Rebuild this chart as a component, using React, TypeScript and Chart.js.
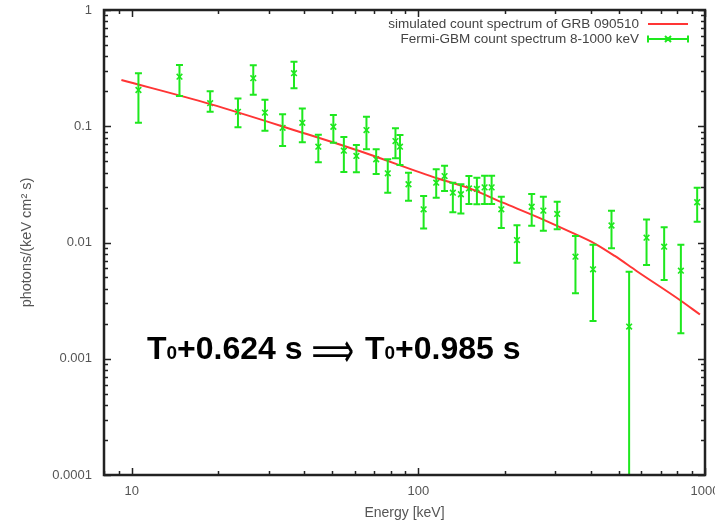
import React, { useEffect, useRef } from 'react';
import { Chart, registerables } from 'chart.js';

Chart.register(...registerables);

// ---- data ----
const energy = [10.55, 14.67, 18.77, 23.47, 26.54, 29.15, 33.59, 36.81, 39.36, 44.76, 50.51, 54.95, 60.77, 65.89, 71.24, 78.19, 83.18, 86.25, 92.36, 104.3, 115.4, 123.4, 131.9, 140.7, 150.1, 160.0, 170.2, 180.1, 194.7, 220.8, 248.5, 272.9, 305.0, 353.2, 406.8, 471.8, 543.6, 625.2, 720.3, 823.8, 939.1];
const counts = [0.205, 0.267, 0.158, 0.133, 0.259, 0.131, 0.097, 0.286, 0.107, 0.0667, 0.099, 0.0616, 0.0555, 0.0928, 0.052, 0.0394, 0.0746, 0.0667, 0.0317, 0.0193, 0.0327, 0.0373, 0.0268, 0.026, 0.0292, 0.0289, 0.0298, 0.0298, 0.0193, 0.0105, 0.0203, 0.0188, 0.0176, 0.00755, 0.00588, 0.014, 0.00189, 0.011, 0.0092, 0.00572, 0.0222];
const countsHigh = [0.286, 0.336, 0.2, 0.173, 0.334, 0.169, 0.127, 0.359, 0.142, 0.0846, 0.125, 0.0808, 0.069, 0.121, 0.0633, 0.052, 0.096, 0.0841, 0.0399, 0.0251, 0.0426, 0.0458, 0.0327, 0.0317, 0.0373, 0.0361, 0.0375, 0.0375, 0.0248, 0.0141, 0.0261, 0.0248, 0.0224, 0.0114, 0.00957, 0.0188, 0.00561, 0.0158, 0.0135, 0.00957, 0.0296];
const countsLow = [0.107, 0.182, 0.133, 0.098, 0.187, 0.0916, 0.0676, 0.212, 0.0728, 0.049, 0.0722, 0.0404, 0.0402, 0.0633, 0.0388, 0.0268, 0.053, 0.0464, 0.0229, 0.0132, 0.0243, 0.0277, 0.0182, 0.0178, 0.0214, 0.0213, 0.0214, 0.0214, 0.0133, 0.0067, 0.0139, 0.0126, 0.013, 0.00366, 0.00211, 0.00891, 0.00001, 0.0064, 0.00476, 0.00166, 0.0151];

const modelEnergy = [9.2, 18.8, 38.4, 62.3, 116.9, 150.9, 197.2, 258, 337.3, 412.4, 484.4, 576.8, 817, 960];
const modelFlux = [0.25, 0.155, 0.0898, 0.0612, 0.0355, 0.0292, 0.022, 0.0167, 0.0124, 0.0098, 0.00766, 0.00569, 0.0032, 0.0024];

const xTickValues = [10, 100, 1000];
const xTickLabels = ['10', '100', '1000'];
const yTickValues = [0.0001, 0.001, 0.01, 0.1, 1];
const yTickLabels = ['0.0001', '0.001', '0.01', '0.1', '1'];

const legendLabels = ['simulated count spectrum of GRB 090510', 'Fermi-GBM count spectrum 8-1000 keV'];
const xTitle = 'Energy [keV]';
const yTitle = 'photons/(keV cm\u00B2 s)';
const noteT = 'T';
const noteSub = '0';
const noteStart = '+0.624 s';
const noteEnd = '+0.985 s';
const noteArrow = '\u27F9';

const RED = '#ff3535';
const GREEN = '#1ee81e';
const FONT = '"Liberation Sans", Arial, Helvetica, sans-serif';

const decorations = {
  id: 'decorations',
  afterDatasetsDraw(chart: any) {
    const { ctx, chartArea: a, scales } = chart;
    const x = scales.x;
    const y = scales.y;
    ctx.save();
    ctx.beginPath();
    ctx.rect(a.left, a.top, a.right - a.left, a.bottom - a.top);
    ctx.clip();
    ctx.strokeStyle = GREEN;
    ctx.lineWidth = 2;
    energy.forEach((e, i) => {
      const px = x.getPixelForValue(e);
      const pl = y.getPixelForValue(countsLow[i]);
      const ph = y.getPixelForValue(countsHigh[i]);
      ctx.beginPath();
      ctx.moveTo(px, pl);
      ctx.lineTo(px, ph);
      ctx.moveTo(px - 3.5, pl);
      ctx.lineTo(px + 3.5, pl);
      ctx.moveTo(px - 3.5, ph);
      ctx.lineTo(px + 3.5, ph);
      ctx.stroke();
    });
    ctx.restore();
  },
  afterDraw(chart: any) {
    const { ctx, chartArea: a, scales } = chart;
    const x = scales.x;
    const y = scales.y;
    ctx.save();
    // ticks (inward, all four sides)
    ctx.strokeStyle = '#222';
    ctx.lineWidth = 1.5;
    ctx.beginPath();
    for (let d = -4; d <= 0; d++) {
      for (let k = 1; k <= 9; k++) {
        const v = k * Math.pow(10, d);
        if (v < y.min * 0.999 || v > y.max * 1.001) continue;
        const py = Math.round(y.getPixelForValue(v)) + 0.5;
        const len = k === 1 ? 7 : 4;
        ctx.moveTo(a.left, py);
        ctx.lineTo(a.left + len, py);
        ctx.moveTo(a.right, py);
        ctx.lineTo(a.right - len, py);
      }
    }
    for (let d = 0; d <= 3; d++) {
      for (let k = 1; k <= 9; k++) {
        const v = k * Math.pow(10, d);
        if (v < x.min * 0.999 || v > x.max * 1.001) continue;
        const px = Math.round(x.getPixelForValue(v)) + 0.5;
        const len = k === 1 ? 7 : 4;
        ctx.moveTo(px, a.bottom);
        ctx.lineTo(px, a.bottom - len);
        ctx.moveTo(px, a.top);
        ctx.lineTo(px, a.top + len);
      }
    }
    ctx.stroke();
    // frame
    ctx.lineWidth = 2.5;
    ctx.strokeRect(a.left, a.top, a.right - a.left, a.bottom - a.top);

    // legend
    ctx.font = '13.5px ' + FONT;
    ctx.fillStyle = '#444';
    ctx.textAlign = 'right';
    ctx.textBaseline = 'middle';
    const tx = a.right - 66;
    const r1 = a.top + 14;
    const r2 = a.top + 29;
    ctx.fillText(legendLabels[0], tx, r1);
    ctx.fillText(legendLabels[1], tx, r2);
    const s0 = a.right - 57;
    const s1 = a.right - 17;
    ctx.strokeStyle = RED;
    ctx.lineWidth = 2;
    ctx.beginPath();
    ctx.moveTo(s0, r1);
    ctx.lineTo(s1, r1);
    ctx.stroke();
    ctx.strokeStyle = GREEN;
    ctx.beginPath();
    ctx.moveTo(s0, r2);
    ctx.lineTo(s1, r2);
    ctx.moveTo(s0, r2 - 3.5);
    ctx.lineTo(s0, r2 + 3.5);
    ctx.moveTo(s1, r2 - 3.5);
    ctx.lineTo(s1, r2 + 3.5);
    const m = (s0 + s1) / 2;
    ctx.moveTo(m - 3, r2 - 3);
    ctx.lineTo(m + 3, r2 + 3);
    ctx.moveTo(m - 3, r2 + 3);
    ctx.lineTo(m + 3, r2 - 3);
    ctx.stroke();

    // annotation
    ctx.fillStyle = '#000';
    ctx.textAlign = 'left';
    ctx.textBaseline = 'alphabetic';
    const base = a.top + 349;
    const big = 'bold 32px ' + FONT;
    const small = 'bold 19px ' + FONT;
    const drawTimed = (x0: number, rest: string) => {
      ctx.font = big;
      ctx.fillText(noteT, x0, base);
      let xx = x0 + ctx.measureText(noteT).width;
      ctx.font = small;
      ctx.fillText(noteSub, xx, base);
      xx += ctx.measureText(noteSub).width;
      ctx.font = big;
      ctx.fillText(rest, xx, base);
    };
    drawTimed(a.left + 43, noteStart);
    drawTimed(a.left + 261, noteEnd);
    // arrow
    ctx.font = '40px "DejaVu Sans", sans-serif';
    const am = ctx.measureText(noteArrow);
    const bw = am.actualBoundingBoxLeft + am.actualBoundingBoxRight;
    const bh = am.actualBoundingBoxAscent + am.actualBoundingBoxDescent;
    ctx.translate(a.left + 209, a.top + 330);
    ctx.scale(40 / bw, 23 / bh);
    ctx.fillText(noteArrow, am.actualBoundingBoxLeft, am.actualBoundingBoxAscent);
    ctx.restore();
  },
};

export default function App() {
  const ref = useRef<HTMLCanvasElement | null>(null);
  useEffect(() => {
    if (!ref.current) return;
    const chart = new Chart(ref.current, {
      type: 'line',
      data: {
        datasets: [
          {
            label: legendLabels[0],
            data: modelEnergy.map((e, i) => ({ x: e, y: modelFlux[i] })),
            borderColor: RED,
            borderWidth: 2,
            pointRadius: 0,
            cubicInterpolationMode: 'monotone',
            fill: false,
          },
          {
            label: legendLabels[1],
            data: energy.map((e, i) => ({ x: e, y: counts[i] })),
            showLine: false,
            pointStyle: 'crossRot',
            pointRadius: 4,
            pointBorderWidth: 1.6,
            borderColor: GREEN,
            backgroundColor: GREEN,
          },
        ],
      },
      options: {
        animation: false,
        responsive: false,
        devicePixelRatio: 1,
        layout: { padding: { top: 10, right: 10, left: 0, bottom: 0 } },
        plugins: { legend: { display: false }, tooltip: { enabled: false } },
        scales: {
          x: {
            type: 'logarithmic',
            min: 8,
            max: 1000,
            afterBuildTicks: (s: any) => {
              s.ticks = xTickValues.map((v) => ({ value: v }));
            },
            afterFit: (s: any) => {
              s.height = 47;
              s.paddingLeft = 0;
              s.paddingRight = 0;
            },
            ticks: {
              callback: (_v: any, i: number) => xTickLabels[i],
              color: '#555',
              font: { size: 13, family: FONT },
              maxRotation: 0,
              autoSkip: false,
              padding: 9,
            },
            grid: { display: false, drawTicks: false },
            border: { display: false },
            title: {
              display: true,
              text: xTitle,
              color: '#555',
              font: { size: 14, family: FONT },
              padding: { top: 0, bottom: 0 },
            },
          },
          y: {
            type: 'logarithmic',
            min: 0.0001,
            max: 1,
            afterBuildTicks: (s: any) => {
              s.ticks = yTickValues.map((v) => ({ value: v }));
            },
            afterFit: (s: any) => {
              s.width = 104;
              s.paddingTop = 0;
              s.paddingBottom = 0;
            },
            ticks: {
              callback: (_v: any, i: number) => yTickLabels[i],
              color: '#555',
              font: { size: 13, family: FONT },
              autoSkip: false,
              padding: 12,
            },
            grid: { display: false, drawTicks: false },
            border: { display: false },
            title: {
              display: true,
              text: yTitle,
              color: '#555',
              font: { size: 14.5, family: FONT },
              padding: { top: 18, bottom: 0 },
            },
          },
        },
      },
      plugins: [decorations],
    } as any);
    return () => chart.destroy();
  }, []);
  return (
    <div style={{ position: 'absolute', left: 0, top: 0, width: 715, height: 522, background: '#fff' }}>
      <canvas ref={ref} width={715} height={522} style={{ display: 'block' }} />
    </div>
  );
}
